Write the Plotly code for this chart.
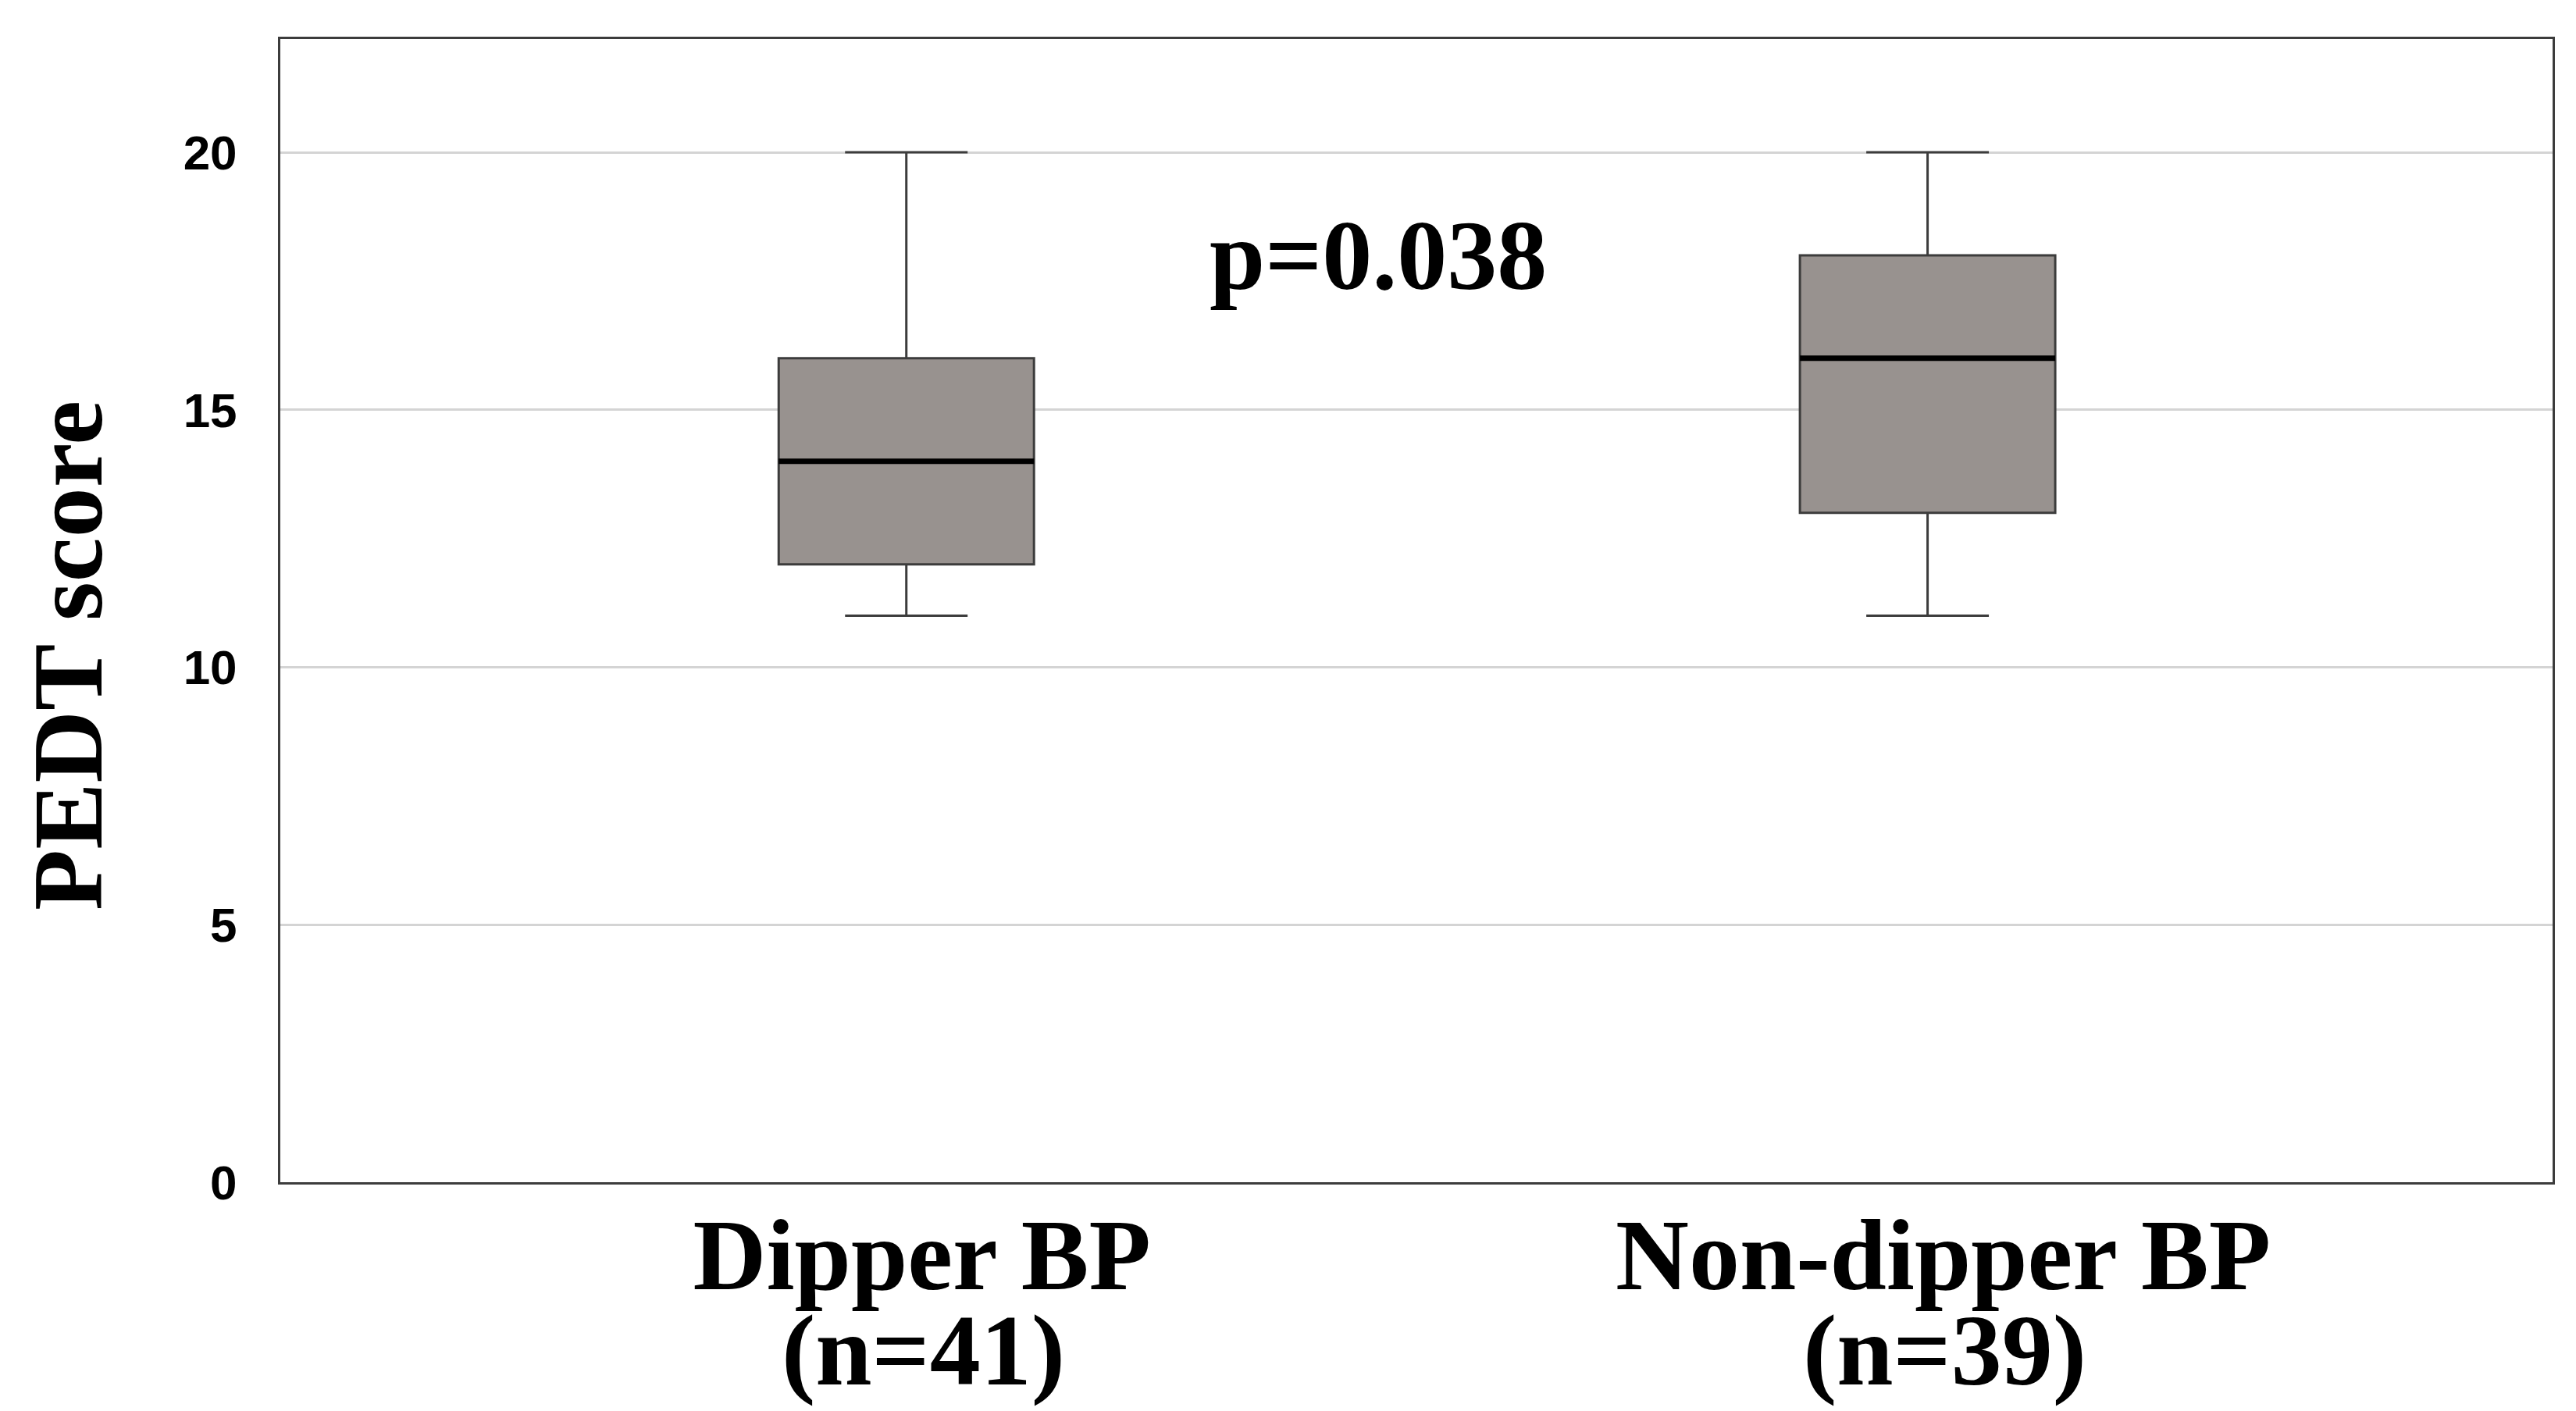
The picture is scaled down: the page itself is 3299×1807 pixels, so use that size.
import plotly.graph_objects as go

# ---- data ----
categories = ["Dipper BP", "Non-dipper BP"]
n_labels = ["(n=41)", "(n=39)"]
lower_whisker = [11, 11]
q1 = [12, 13]
median = [14, 16]
q3 = [16, 18]
upper_whisker = [20, 20]
y_ticks = [0, 5, 10, 15, 20]
p_text = "p=0.038"
y_title = "PEDT score"

# ---- style ----
BOX_W = 0.25
SERIF = "Liberation Serif"
SANS = "Liberation Sans"
FILL = "#98928f"
EDGE = "#3c3c3c"

fig = go.Figure()
fig.add_trace(go.Box(
    x=categories,
    q1=q1, median=median, q3=q3,
    lowerfence=lower_whisker, upperfence=upper_whisker,
    fillcolor=FILL,
    line=dict(color=EDGE, width=3),
    width=BOX_W,
    whiskerwidth=0.48,
    boxpoints=False,
    hoverinfo="skip",
    showlegend=False,
))

# thicker black median lines
shapes = []
for i, m in enumerate(median):
    shapes.append(dict(type="line", xref="x", yref="y",
                       x0=i - BOX_W / 2, x1=i + BOX_W / 2, y0=m, y1=m,
                       line=dict(color="black", width=7)))

annotations = []
for i, t in enumerate(n_labels):
    annotations.append(dict(text=t, x=i, xref="x", xshift=22, y=-0.147, yref="paper",
                            yanchor="middle", xanchor="center", showarrow=False,
                            font=dict(family=SERIF, size=130, color="black", weight="bold")))
annotations.append(dict(text=p_text, x=0.483, xref="paper", y=18.0, yref="y",
                        xanchor="center", yanchor="middle", showarrow=False,
                        font=dict(family=SERIF, size=128, color="black", weight="bold")))
annotations.append(dict(text=y_title, textangle=-90, x=-0.0935, xref="paper",
                        y=0.461, yref="paper", xanchor="center", yanchor="middle",
                        showarrow=False,
                        font=dict(family=SERIF, size=128, color="black", weight="bold")))

fig.update_layout(
    width=3299, height=1807,
    margin=dict(l=351, r=38, t=42, b=301),
    paper_bgcolor="white", plot_bgcolor="white",
    shapes=shapes, annotations=annotations,
    xaxis=dict(
        type="category",
        range=[-0.613, 1.612],
        showline=True, linecolor=EDGE, linewidth=3, mirror=True,
        showgrid=False, ticks="", ticklabelshift=20, ticklabelstandoff=-22,
        tickfont=dict(family=SERIF, size=130, color="black", weight="bold"),
    ),
    yaxis=dict(
        range=[0, 22.2],
        tickvals=y_ticks,
        showline=True, linecolor=EDGE, linewidth=3, mirror=True,
        showgrid=True, gridcolor="#d4d4d4", gridwidth=3,
        zeroline=False, ticks="", ticklabelstandoff=40,
        tickfont=dict(family=SANS, size=62, color="black", weight="bold"),
    ),
)

fig.write_html("out.html")
